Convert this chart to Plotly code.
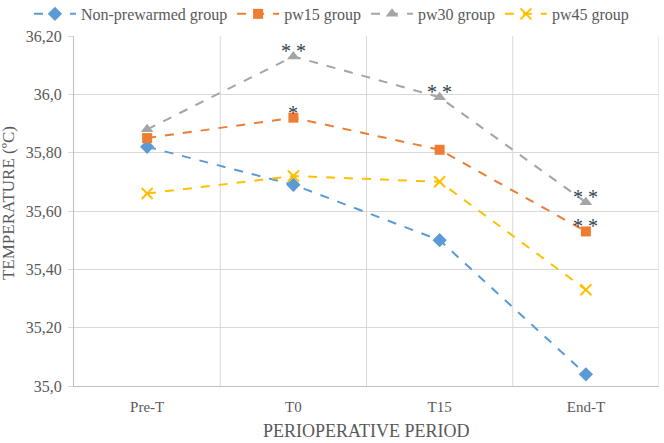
import plotly.graph_objects as go

categories = ["Pre-T", "T0", "T15", "End-T"]
non_prewarmed = [35.82, 35.69, 35.50, 35.04]
pw15 = [35.85, 35.92, 35.81, 35.53]
pw30 = [35.88, 36.13, 35.99, 35.63]
pw45 = [35.66, 35.72, 35.70, 35.33]
y_tickvals = [35.0, 35.2, 35.4, 35.6, 35.8, 36.0, 36.2]
y_ticktext = ["35,0", "35,20", "35,40", "35,60", "35,80", "36,0", "36,20"]
# significance marks: category index -> text
sig_pw15 = {1: "*", 3: "**"}
sig_pw30 = {1: "**", 2: "**", 3: "**"}

xs = list(range(len(categories)))
FONT = "Liberation Serif"
GREY = "#595959"

series = [
    ("Non-prewarmed group", non_prewarmed, "#5B9BD5", "diamond", 11),
    ("pw15 group", pw15, "#ED7D31", "square", 10),
    ("pw30 group", pw30, "#A5A5A5", "triangle-up", 11),
    ("pw45 group", pw45, "#FFC000", "x-thin-open", 11),
]

fig = go.Figure()
for name, vals, color, sym, size in series:
    fig.add_trace(go.Scatter(
        x=xs, y=vals, name=name, mode="lines+markers",
        line=dict(color=color, width=2, dash="dash"),
        marker=dict(symbol=sym, size=size, color=color,
                    line=dict(color=color, width=2 if "x" in sym else 0)),
    ))

annotations = []
for vals, sig in ((pw15, sig_pw15), (pw30, sig_pw30)):
    for i, txt in sig.items():
        annotations.append(dict(x=xs[i], y=vals[i], text=txt.replace("**", "* *"), showarrow=False,
                                yshift=5, font=dict(size=20, color="#333F50", family=FONT)))

# axis titles
annotations.append(dict(xref="paper", yref="paper", x=-0.111, y=0.523, xanchor="center", yanchor="middle",
                        text="TEMPERATURE (ºC)", textangle=-90, showarrow=False,
                        font=dict(size=17, color=GREY, family=FONT)))
annotations.append(dict(xref="paper", yref="paper", x=0.5, y=-0.129, xanchor="center", yanchor="middle",
                        text="PERIOPERATIVE PERIOD", showarrow=False,
                        font=dict(size=18, color=GREY, family=FONT)))

shapes = []
for b in [0.5, 1.5, 2.5, 3.5]:
    shapes.append(dict(type="line", xref="x", yref="paper", x0=b, x1=b, y0=0, y1=1,
                       line=dict(color="#D9D9D9", width=1), layer="below"))

fig.update_layout(
    width=664, height=443,
    margin=dict(l=74, r=5, t=36, b=57, autoexpand=False),
    paper_bgcolor="white", plot_bgcolor="white",
    font=dict(family=FONT, color=GREY, size=14),
    showlegend=True,
    legend=dict(orientation="h", x=-0.077, xanchor="left", y=1.063, yanchor="middle",
                font=dict(size=16, color=GREY, family=FONT),
                traceorder="normal", tracegroupgap=0, itemwidth=42),
    annotations=annotations, shapes=shapes,
    xaxis=dict(range=[-0.5, 3.5], tickvals=xs, ticktext=categories, showgrid=False,
               zeroline=False, showline=True, linecolor="#BFBFBF", linewidth=1,
               ticks="outside", ticklen=7, tickcolor="rgba(0,0,0,0)",
               tickfont=dict(size=15, color=GREY, family=FONT)),
    yaxis=dict(range=[35.0, 36.2], tickvals=y_tickvals, ticktext=y_ticktext,
               showgrid=True, gridcolor="#D9D9D9", gridwidth=1, zeroline=False,
               showline=True, linecolor="#BFBFBF", linewidth=1,
               ticks="outside", ticklen=5, tickcolor="#D9D9D9", ticklabelstandoff=3,
               tickfont=dict(size=16, color=GREY, family=FONT)),
)

fig.write_html("out.html", config={"displayModeBar": False},
               post_script="document.body.style.margin='0';")
